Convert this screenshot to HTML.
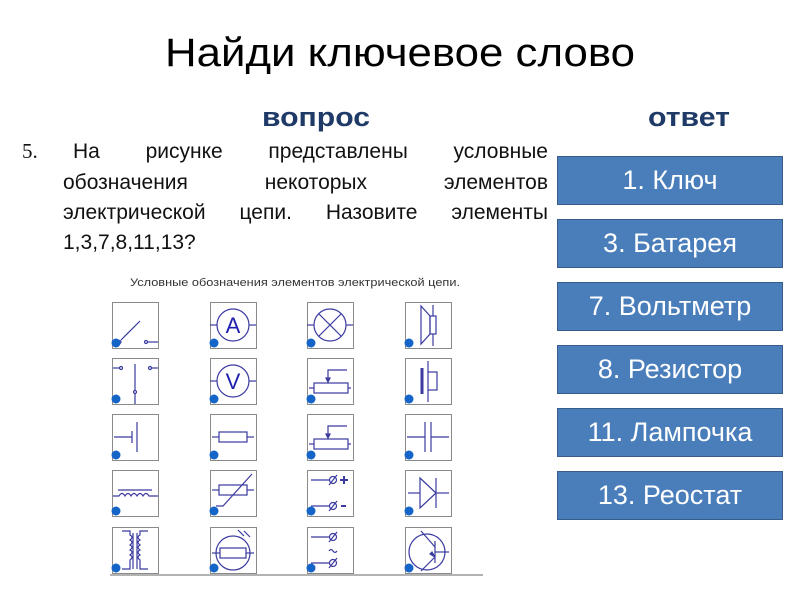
<!DOCTYPE html>
<html><head><meta charset="utf-8"><style>
html,body{margin:0;padding:0;background:#fff;}
body{width:800px;height:600px;overflow:hidden;position:relative;font-family:"Liberation Sans","Noto Sans CJK SC",sans-serif;}
.q{position:absolute;left:63px;width:485px;display:flex;justify-content:space-between;font-size:21px;color:#111;height:30px;line-height:30px;}
.btn{position:absolute;left:557px;width:226px;height:49px;background:#4a7ebb;border:1.5px solid #385d8a;box-sizing:border-box;color:#fff;font-size:27px;text-align:center;line-height:46px;}
</style></head><body>
<svg width="800" height="600" style="position:absolute;left:0;top:0" xmlns="http://www.w3.org/2000/svg">
<text x="400" y="66" font-size="40" text-anchor="middle" textLength="470" lengthAdjust="spacingAndGlyphs" fill="#000" font-family="Liberation Sans, sans-serif">Найди ключевое слово</text>
<text x="316" y="126" font-size="27" font-weight="bold" text-anchor="middle" textLength="108" lengthAdjust="spacingAndGlyphs" fill="#1f3a66" font-family="Liberation Sans, sans-serif">вопрос</text>
<text x="689" y="126" font-size="27" font-weight="bold" text-anchor="middle" textLength="82" lengthAdjust="spacingAndGlyphs" fill="#1f3a66" font-family="Liberation Sans, sans-serif">ответ</text>
<text x="22" y="158" font-size="21" fill="#111" font-family="Liberation Serif, serif">5.</text>
<text x="295" y="286" font-size="11" text-anchor="middle" textLength="330" lengthAdjust="spacingAndGlyphs" fill="#333" font-family="Liberation Sans, sans-serif">Условные обозначения элементов электрической цепи.</text>
<line x1="110" y1="575" x2="483" y2="575" stroke="#999" stroke-width="1.5"/>
<defs>
<g id="box"><rect x="0.5" y="0.5" width="46" height="46" fill="#fff" stroke="#8a8a8a" stroke-width="1"/></g>
</defs>
<g fill="none" stroke="#3a3aa0" stroke-width="1.2">
<g transform="translate(112,302)"><use href="#box"/><line x1="1" y1="40" x2="6" y2="40"/><circle cx="7.5" cy="40" r="1.5"/><line x1="9" y1="38" x2="28" y2="19"/><circle cx="34" cy="40" r="1.5"/><line x1="35.5" y1="40" x2="46" y2="40"/></g>
<g transform="translate(112,358)"><use href="#box"/><line x1="1" y1="10" x2="7" y2="10"/><circle cx="9" cy="10" r="1.5"/><circle cx="38" cy="10" r="1.5"/><line x1="40" y1="10" x2="46" y2="10"/><line x1="23" y1="6" x2="23" y2="32"/><circle cx="23" cy="34" r="1.5"/><line x1="23" y1="36" x2="23" y2="46"/></g>
<g transform="translate(112,414)"><use href="#box"/><line x1="2" y1="23" x2="20" y2="23"/><line x1="20" y1="17" x2="20" y2="29"/><line x1="25" y1="8" x2="25" y2="38"/></g>
<g transform="translate(112,470)"><use href="#box"/><line x1="6" y1="20" x2="40" y2="20"/><path d="M1 26 H7 q3 -5 6 0 q3 -5 6 0 q3 -5 6 0 q3 -5 6 0 q3 -5 6 0 H46"/></g>
<g transform="translate(112,527)"><use href="#box"/><path d="M10 4 H18 V8 q4 2 0 5 q4 2 0 5 q4 2 0 5 q4 2 0 5 q4 2 0 5 V42 H10"/><path d="M36 4 H28 V8 q-4 2 0 5 q-4 2 0 5 q-4 2 0 5 q-4 2 0 5 q-4 2 0 5 V42 H36"/><line x1="21" y1="6" x2="21" y2="42"/><line x1="25" y1="6" x2="25" y2="42"/></g>
<g transform="translate(210,302)"><use href="#box"/><line x1="0" y1="23" x2="7" y2="23"/><circle cx="23" cy="23" r="16"/><line x1="39" y1="23" x2="46" y2="23"/><text x="23" y="31" font-size="22" text-anchor="middle" fill="#2020b0" stroke="none" font-family="Liberation Sans, sans-serif">A</text></g>
<g transform="translate(210,358)"><use href="#box"/><line x1="0" y1="23" x2="7" y2="23"/><circle cx="23" cy="23" r="16"/><line x1="39" y1="23" x2="46" y2="23"/><text x="23" y="31" font-size="22" text-anchor="middle" fill="#2020b0" stroke="none" font-family="Liberation Sans, sans-serif">V</text></g>
<g transform="translate(210,414)"><use href="#box"/><line x1="2" y1="23" x2="9" y2="23"/><rect x="9" y="18" width="28" height="10"/><line x1="37" y1="23" x2="44" y2="23"/></g>
<g transform="translate(210,470)"><use href="#box"/><line x1="2" y1="20" x2="9" y2="20"/><rect x="9" y="15" width="28" height="10"/><line x1="37" y1="20" x2="44" y2="20"/><path d="M6 36 H13 L42 4"/></g>
<g transform="translate(210,527)"><use href="#box"/><circle cx="23" cy="26" r="17"/><line x1="2" y1="26" x2="10" y2="26"/><rect x="10" y="21" width="26" height="10"/><line x1="36" y1="26" x2="44" y2="26"/><line x1="28" y1="3" x2="34" y2="9"/><line x1="34" y1="4" x2="40" y2="10"/></g>
<g transform="translate(307,302)"><use href="#box"/><line x1="0" y1="23" x2="7" y2="23"/><circle cx="23" cy="23" r="16"/><line x1="39" y1="23" x2="46" y2="23"/><line x1="12" y1="12" x2="34" y2="34"/><line x1="34" y1="12" x2="12" y2="34"/></g>
<g transform="translate(307,358)"><use href="#box"/><line x1="2" y1="30" x2="7" y2="30"/><rect x="7" y="25" width="34" height="10"/><line x1="41" y1="30" x2="44" y2="30"/><path d="M21 24 V12 H40"/><path d="M19 20 L21 24 L23 20Z" fill="#3a3aa0"/></g>
<g transform="translate(307,414)"><use href="#box"/><line x1="2" y1="30" x2="7" y2="30"/><rect x="7" y="25" width="34" height="10"/><line x1="41" y1="30" x2="44" y2="30"/><path d="M21 24 V12 H40"/><path d="M19 20 L21 24 L23 20Z" fill="#3a3aa0"/></g>
<g transform="translate(307,470)"><use href="#box"/><line x1="4" y1="10" x2="22" y2="10"/><circle cx="26" cy="10" r="3.5"/><line x1="22" y1="15" x2="30" y2="5"/><line x1="4" y1="36" x2="22" y2="36"/><circle cx="26" cy="36" r="3.5"/><line x1="22" y1="41" x2="30" y2="31"/><path d="M33 10 H41 M37 6 V14 M34 36 H39" stroke-width="2"/></g>
<g transform="translate(307,527)"><use href="#box"/><line x1="4" y1="10" x2="22" y2="10"/><circle cx="26" cy="10" r="3.5"/><line x1="22" y1="15" x2="30" y2="5"/><line x1="4" y1="36" x2="22" y2="36"/><circle cx="26" cy="36" r="3.5"/><line x1="22" y1="41" x2="30" y2="31"/><path d="M22 24 q2 -3 4 0 q2 3 4 0"/></g>
<g transform="translate(405,302)"><use href="#box"/><path d="M16 4 L25 14 V32 L16 42 Z"/><rect x="25" y="14" width="6" height="18"/><line x1="28" y1="3" x2="28" y2="14"/><line x1="28" y1="32" x2="28" y2="44"/></g>
<g transform="translate(405,358)"><use href="#box"/><line x1="17" y1="10" x2="17" y2="36" stroke-width="3"/><rect x="23" y="14" width="9" height="18"/><line x1="23" y1="3" x2="23" y2="14"/><line x1="23" y1="32" x2="23" y2="44"/></g>
<g transform="translate(405,414)"><use href="#box"/><line x1="2" y1="23" x2="20" y2="23"/><line x1="20" y1="8" x2="20" y2="38"/><line x1="26" y1="8" x2="26" y2="38"/><line x1="26" y1="23" x2="44" y2="23"/></g>
<g transform="translate(405,470)"><use href="#box"/><line x1="3" y1="23" x2="15" y2="23"/><path d="M15 8 L31 23 L15 38 Z"/><line x1="31" y1="8" x2="31" y2="38"/><line x1="31" y1="23" x2="44" y2="23"/></g>
<g transform="translate(405,527)"><use href="#box"/><circle cx="22" cy="25" r="18"/><line x1="30" y1="14" x2="30" y2="36"/><line x1="30" y1="20" x2="16" y2="4"/><line x1="30" y1="30" x2="16" y2="44"/><line x1="30" y1="25" x2="44" y2="25"/><path d="M25 27 L30 30 L27 25Z" fill="#3a3aa0"/></g>
</g>
<g fill="#1565c8" stroke="none">
<circle cx="116" cy="343" r="4.5"/><circle cx="116" cy="399" r="4.5"/><circle cx="116" cy="455" r="4.5"/><circle cx="116" cy="511" r="4.5"/><circle cx="116" cy="568" r="4.5"/>
<circle cx="214" cy="343" r="4.5"/><circle cx="214" cy="399" r="4.5"/><circle cx="214" cy="455" r="4.5"/><circle cx="214" cy="511" r="4.5"/><circle cx="214" cy="568" r="4.5"/>
<circle cx="311" cy="343" r="4.5"/><circle cx="311" cy="399" r="4.5"/><circle cx="311" cy="455" r="4.5"/><circle cx="311" cy="511" r="4.5"/><circle cx="311" cy="568" r="4.5"/>
<circle cx="409" cy="343" r="4.5"/><circle cx="409" cy="399" r="4.5"/><circle cx="409" cy="455" r="4.5"/><circle cx="409" cy="511" r="4.5"/><circle cx="409" cy="568" r="4.5"/>
</g>
</svg>
<div class="q" style="top:137px;"><span style="margin-left:10px">На</span><span>рисунке</span><span>представлены</span><span>условные</span></div>
<div class="q" style="top:168px;"><span>обозначения</span><span>некоторых</span><span>элементов</span></div>
<div class="q" style="top:198px;"><span>электрической</span><span>цепи.</span><span>Назовите</span><span>элементы</span></div>
<div class="q" style="top:228px;"><span>1,3,7,8,11,13?</span></div>
<div class="btn" style="top:156px;">1. Ключ</div>
<div class="btn" style="top:219px;">3. Батарея</div>
<div class="btn" style="top:282px;">7. Вольтметр</div>
<div class="btn" style="top:345px;">8. Резистор</div>
<div class="btn" style="top:408px;">11. Лампочка</div>
<div class="btn" style="top:471px;">13. Реостат</div>
</body></html>
